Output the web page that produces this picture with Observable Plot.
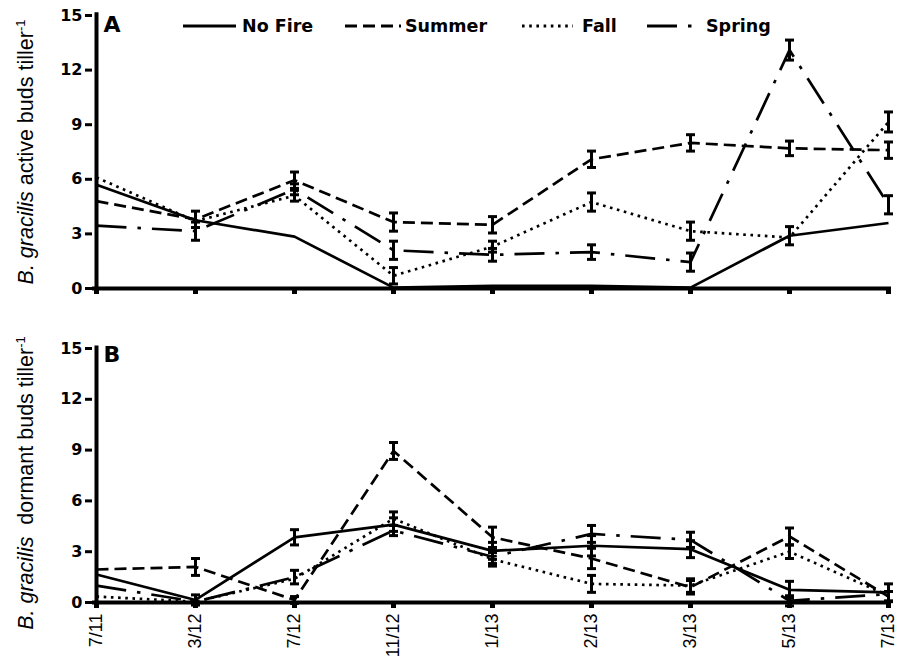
<!DOCTYPE html>
<html><head><meta charset="utf-8">
<script src="https://cdn.jsdelivr.net/npm/d3@7"></script>
<script src="https://cdn.jsdelivr.net/npm/@observablehq/plot@0.6"></script>
<style>
body{margin:0;background:#fff;}
#chart{position:relative;width:917px;height:660px;overflow:hidden;background:#fff;}
#chart svg{position:absolute;left:0;display:block;}
</style></head><body><div id="chart"></div>
<script>
// Sampling dates (x categories)
const dates = ["7/11","3/12","7/12","11/12","1/13","2/13","3/13","5/13","7/13"];
const treatments = ["No Fire","Summer","Fall","Spring"];
const yTicks = [0,3,6,9,12,15];

// Panel A: active buds per tiller (means)
const noFireActive = [5.7, 3.75, 2.85, 0.05, 0.15, 0.15, 0.05, 2.9, 3.6];
const summerActive = [4.8, 3.8, 5.95, 3.65, 3.5, 7.1, 8.0, 7.7, 7.6];
const fallActive   = [6.1, 3.7, 5.1, 0.7, 2.3, 4.75, 3.15, 2.8, 9.15];
const springActive = [3.45, 3.15, 5.45, 2.1, 1.85, 2.0, 1.45, 13.1, 4.6];
// Panel A: standard errors
const noFireActiveSE = [0, 0, 0, 0, 0, 0, 0, 0.5, 0];
const summerActiveSE = [0, 0.45, 0.45, 0.5, 0.45, 0.45, 0.45, 0.4, 0.45];
const fallActiveSE   = [0, 0, 0.3, 0.45, 0.3, 0.5, 0.5, 0, 0.55];
const springActiveSE = [0, 0.5, 0.3, 0.5, 0.35, 0.4, 0.5, 0.55, 0.5];

// Panel B: dormant buds per tiller (means)
const noFireDormant = [1.65, 0.15, 3.85, 4.6, 3.05, 3.35, 3.15, 0.75, 0.6];
const summerDormant = [1.95, 2.1, 0.15, 8.95, 3.85, 2.6, 0.9, 3.9, 0.35];
const fallDormant   = [0.35, 0.05, 1.4, 4.95, 2.55, 1.1, 1.0, 3.0, 0.4];
const springDormant = [1.0, 0.05, 1.5, 4.25, 2.7, 4.05, 3.7, 0.1, 0.5];
// Panel B: standard errors
const noFireDormantSE = [0, 0.3, 0.45, 0.4, 0.5, 0.6, 0.5, 0.5, 0.5];
const summerDormantSE = [0, 0.5, 0.2, 0.5, 0.6, 0.6, 0.4, 0.5, 0.3];
const fallDormantSE   = [0, 0, 0, 0.4, 0.4, 0.5, 0.4, 0.4, 0];
const springDormantSE = [0, 0, 0.4, 0.3, 0.4, 0.5, 0.45, 0.3, 0];

const dashes = {"No Fire": null, "Summer": "12,6", "Fall": "2.6,4.6", "Spring": "30,11,3.5,11"};

function table(series) {
  const out = [];
  series.forEach(([t, vals, ses]) => vals.forEach((v, i) => out.push({t, date: dates[i], value: v, se: ses[i]})));
  return out;
}
const activeData = table([
  ["No Fire", noFireActive, noFireActiveSE],
  ["Summer", summerActive, summerActiveSE],
  ["Fall", fallActive, fallActiveSE],
  ["Spring", springActive, springActiveSE]
]);
const dormantData = table([
  ["No Fire", noFireDormant, noFireDormantSE],
  ["Summer", summerDormant, summerDormantSE],
  ["Fall", fallDormant, fallDormantSE],
  ["Spring", springDormant, springDormantSE]
]);

const cap = {draw(ctx) { ctx.moveTo(-4.5, 0); ctx.lineTo(4.5, 0); }};

function panel({data, height, marginTop, marginBottom, letter, letterDy, showLabels}) {
  const err = data.filter(d => d.se > 0);
  const marks = [];
  for (const t of treatments) {
    marks.push(Plot.line(data.filter(d => d.t === t), {
      x: "date", y: "value", stroke: "black", strokeWidth: 2.7,
      strokeDasharray: dashes[t] || undefined, strokeLinecap: "butt", strokeLinejoin: "round"
    }));
  }
  marks.push(
    Plot.ruleX(err, {x: "date", y1: d => d.value - d.se, y2: d => d.value + d.se, stroke: "black", strokeWidth: 3}),
    Plot.dot(err, {x: "date", y: d => d.value + d.se, symbol: cap, stroke: "black", fill: "none", strokeWidth: 3}),
    Plot.dot(err, {x: "date", y: d => d.value - d.se, symbol: cap, stroke: "black", fill: "none", strokeWidth: 3}),
    Plot.ruleX([dates[0]], {x: d => d, y1: 0, y2: 15.15, stroke: "black", strokeWidth: 4}),
    Plot.ruleY([0], {stroke: "black", strokeWidth: 4}),
    Plot.axisY({ticks: yTicks, tickSize: 7, tickPadding: 3, fontSize: 16, fontWeight: "bold",
      fontFamily: "DejaVu Sans", strokeWidth: 3, label: null}),
    showLabels
      ? Plot.axisX({tickSize: 6, strokeWidth: 5, tickRotate: -90, tickPadding: 5, fontSize: 18,
          fontFamily: "Liberation Sans, Arial", label: null})
      : Plot.axisX({tickSize: 6, strokeWidth: 5, tickFormat: () => "", label: null}),
    Plot.text([letter], {text: d => d, frameAnchor: "top-left", dx: 11, dy: letterDy,
      fontSize: 22, fontWeight: "bold", fontFamily: "DejaVu Sans"})
  );
  return Plot.plot({
    width: 917, height, marginLeft: 92, marginRight: 26, marginTop, marginBottom,
    x: {type: "point", domain: dates, padding: 0},
    y: {domain: [0, 15]},
    style: {fontFamily: "DejaVu Sans", color: "black", background: "white", overflow: "visible"},
    marks
  });
}

function addYTitle(svg, x, y, parts) {
  const t = d3.select(svg).append("text")
    .attr("transform", `translate(${x},${y}) rotate(-90)`)
    .attr("text-anchor", "middle")
    .attr("font-family", "Liberation Sans, Arial")
    .attr("font-size", 21.5)
    .attr("fill", "black")
    .attr("xml:space", "preserve")
    .style("white-space", "pre");
  t.append("tspan").attr("font-style", "italic").text("B. gracilis");
  t.append("tspan").text(parts);
  t.append("tspan").attr("font-size", 13).attr("dy", -8).text("-1");
}

const chart = document.getElementById("chart");

const svgA = panel({data: activeData, height: 300, marginTop: 15, marginBottom: 12, letter: "A", letterDy: 1, showLabels: false});
svgA.style.top = "0px";
addYTitle(svgA, 33, 152, " active buds tiller");

// Legend
const legendItems = [
  {t: "No Fire", x1: 183, x2: 236, tx: 242},
  {t: "Summer", x1: 345, x2: 401, tx: 405},
  {t: "Fall", x1: 522, x2: 573, tx: 582},
  {t: "Spring", x1: 647, x2: 696, tx: 706}
];
const lg = d3.select(svgA).append("g");
legendItems.forEach(it => {
  lg.append("line").attr("x1", it.x1).attr("x2", it.x2).attr("y1", 26).attr("y2", 26)
    .attr("stroke", "black").attr("stroke-width", 2.8).attr("stroke-linecap", "butt")
    .attr("stroke-dasharray", dashes[it.t] || null);
  lg.append("text").attr("x", it.tx).attr("y", 32).attr("text-anchor", "start")
    .attr("font-family", "DejaVu Sans")
    .attr("font-weight", "bold").attr("font-size", 17.5).attr("fill", "black").text(it.t);
});
chart.appendChild(svgA);

const svgB = panel({data: dormantData, height: 360, marginTop: 48, marginBottom: 58, letter: "B", letterDy: -2, showLabels: true});
svgB.style.top = "300px";
addYTitle(svgB, 33, 183, "  dormant buds tiller");
chart.appendChild(svgB);
</script>
</body></html>
